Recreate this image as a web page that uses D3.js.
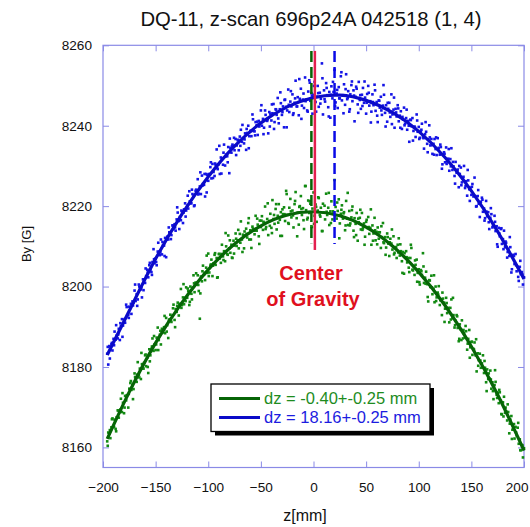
<!DOCTYPE html>
<html><head><meta charset="utf-8">
<script src="https://cdn.jsdelivr.net/npm/d3@7"></script>
<style>body{margin:0;background:#fff}svg{display:block}</style>
</head><body><svg id="c" width="530" height="527"></svg>
<script>
const title = "DQ-11, z-scan 696p24A 042518 (1, 4)";
const xLabel = "z[mm]";
const yLabel = "By [G]";
const xTicks = [-200,-150,-100,-50,0,50,100,150,200];
const yTicks = [8160,8180,8200,8220,8240,8260];

// scan positions (pass 1)
const scanZ = [-196,-195,-194,-193,-192,-191,-190,-189,-188,-187,-186,-185,-184,-183,-182,-181,-180,-179,-178,-177,
-176,-175,-174,-173,-172,-171,-170,-169,-168,-167,-166,-165,-164,-163,-162,-161,-160,-159,-158,-157,
-156,-155,-154,-153,-152,-151,-150,-149,-148,-147,-146,-145,-144,-143,-142,-141,-140,-139,-138,-137,
-136,-135,-134,-133,-132,-131,-130,-129,-128,-127,-126,-125,-124,-123,-122,-121,-120,-119,-118,-117,
-116,-115,-114,-113,-112,-111,-110,-109,-108,-107,-106,-105,-104,-103,-102,-101,-100,-99,-98,-97,
-96,-95,-94,-93,-92,-91,-90,-89,-88,-87,-86,-85,-84,-83,-82,-81,-80,-79,-78,-77,
-76,-75,-74,-73,-72,-71,-70,-69,-68,-67,-66,-65,-64,-63,-62,-61,-60,-59,-58,-57,
-56,-55,-54,-53,-52,-51,-50,-49,-48,-47,-46,-45,-44,-43,-42,-41,-40,-39,-38,-37,
-36,-35,-34,-33,-32,-31,-30,-29,-28,-27,-26,-25,-24,-23,-22,-21,-20,-19,-18,-17,
-16,-15,-14,-13,-12,-11,-10,-9,-8,-7,-6,-5,-4,-3,-2,-1,0,1,2,3,
4,5,6,7,8,9,10,11,12,13,14,15,16,17,18,19,20,21,22,23,
24,25,26,27,28,29,30,31,32,33,34,35,36,37,38,39,40,41,42,43,
44,45,46,47,48,49,50,51,52,53,54,55,56,57,58,59,60,61,62,63,
64,65,66,67,68,69,70,71,72,73,74,75,76,77,78,79,80,81,82,83,
84,85,86,87,88,89,90,91,92,93,94,95,96,97,98,99,100,101,102,103,
104,105,106,107,108,109,110,111,112,113,114,115,116,117,118,119,120,121,122,123,
124,125,126,127,128,129,130,131,132,133,134,135,136,137,138,139,140,141,142,143,
144,145,146,147,148,149,150,151,152,153,154,155,156,157,158,159,160,161,162,163,
164,165,166,167,168,169,170,171,172,173,174,175,176,177,178,179,180,181,182,183,
184,185,186,187,188,189,190,191,192,193,194,195,196,197,198,199,200];

const blueBy = [8183.3,8180.6,8185.2,8184.4,8185.7,8184.1,8187.0,8188.8,8186.8,8187.8,8187.1,8189.5,8186.7,8190.2,8191.9,8190.3,8191.6,8191.0,8195.5,8192.7,
8193.0,8195.0,8194.7,8193.2,8196.3,8196.0,8199.0,8196.4,8198.1,8196.8,8200.5,8199.2,8199.3,8197.3,8201.8,8201.8,8200.9,8202.6,8204.2,8202.3,
8205.3,8204.1,8203.6,8206.1,8209.3,8205.8,8207.0,8205.3,8208.7,8208.6,8207.8,8211.7,8208.0,8210.2,8210.2,8212.1,8207.3,8212.4,8211.7,8213.5,
8213.4,8212.8,8215.2,8214.3,8215.5,8213.9,8216.7,8218.4,8216.3,8217.3,8216.5,8218.7,8215.8,8219.2,8220.7,8218.9,8220.1,8219.4,8223.7,8220.7,
8220.7,8223.0,8222.4,8220.2,8223.8,8223.1,8226.7,8223.1,8224.9,8223.0,8227.6,8225.5,8225.3,8222.4,8228.0,8227.8,8226.3,8228.0,8229.7,8226.9,
8230.5,8228.5,8227.5,8230.3,8234.1,8229.2,8230.4,8228.0,8232.1,8231.7,8230.3,8235.3,8230.1,8232.8,8232.4,8234.7,8228.2,8234.5,8233.3,8235.3,
8235.0,8233.9,8236.7,8235.1,8236.4,8233.9,8237.3,8239.0,8236.0,8236.9,8235.6,8238.1,8234.0,8238.2,8240.0,8237.4,8238.7,8237.4,8242.8,8238.7,
8238.6,8240.9,8240.1,8237.7,8241.2,8240.4,8243.8,8240.0,8241.7,8239.5,8243.8,8241.5,8241.2,8238.1,8243.4,8243.0,8241.3,8243.1,8245.4,8240.9,
8244.1,8242.7,8246.9,8240.6,8244.1,8245.6,8242.7,8244.8,8239.6,8246.5,8244.7,8243.8,8249.0,8243.4,8246.0,8244.8,8247.8,8243.1,8245.7,8251.2,
8244.8,8247.1,8242.6,8246.7,8249.2,8245.0,8246.5,8244.4,8252.0,8246.5,8243.8,8248.5,8251.3,8246.2,8248.1,8243.0,8247.7,8250.9,8245.9,8247.2,
8249.9,8244.7,8248.2,8246.7,8255.5,8242.8,8248.8,8246.0,8250.6,8247.6,8244.6,8248.4,8242.0,8249.8,8246.8,8248.4,8253.9,8245.8,8248.0,8244.4,
8249.6,8246.8,8252.3,8246.3,8247.6,8250.3,8245.2,8252.8,8246.6,8248.6,8243.5,8247.8,8250.1,8246.1,8248.8,8241.1,8247.2,8249.2,8245.3,8250.9,
8246.4,8244.2,8247.7,8249.4,8245.7,8247.0,8243.0,8247.9,8249.9,8245.0,8246.1,8243.5,8247.8,8245.1,8250.2,8243.7,8245.9,8240.9,8246.3,8244.5,
8247.2,8242.7,8245.0,8247.7,8243.2,8245.1,8241.0,8244.2,8245.7,8242.2,8247.8,8242.8,8244.0,8239.5,8244.2,8242.3,8245.1,8241.1,8242.5,8243.6,
8239.2,8241.6,8244.5,8240.5,8241.9,8239.0,8241.2,8236.0,8241.5,8239.9,8241.9,8238.7,8239.8,8237.2,8242.8,8238.5,8239.7,8237.0,8238.7,8240.5,
8237.1,8234.3,8237.9,8238.5,8235.5,8236.6,8240.1,8235.1,8236.7,8233.0,8235.5,8236.7,8234.2,8232.7,8236.9,8234.5,8232.8,8234.7,8229.3,8232.9,
8233.4,8230.9,8234.6,8231.1,8231.8,8228.8,8231.7,8234.4,8229.0,8229.9,8227.5,8231.0,8228.3,8229.1,8224.7,8228.0,8229.6,8225.9,8226.8,8230.0,
8224.5,8226.2,8222.6,8226.4,8224.2,8224.6,8222.8,8225.5,8222.4,8227.1,8222.4,8220.0,8222.5,8220.6,8217.3,8221.1,8222.1,8218.6,8219.4,8217.0,
8221.3,8217.5,8218.5,8214.3,8217.1,8218.0,8214.7,8215.4,8217.6,8213.8,8215.0,8209.9,8214.6,8212.5,8214.3,8210.6,8211.8,8213.9,8209.8,8210.9,
8207.2,8209.3,8207.6,8209.8,8203.5,8207.7,8207.9,8205.6,8208.1,8203.8,8204.9,8201.4,8204.9,8203.1,8203.6,8200.5,8202.3];

const greenBy = [8161.5,8163.7,8163.4,8162.3,8165.0,8167.2,8165.1,8166.9,8164.6,8167.5,8169.2,8167.4,8168.8,8172.1,8168.8,8171.1,8168.5,8172.8,8171.7,8173.0,
8169.9,8174.6,8176.0,8174.3,8175.5,8174.5,8178.4,8177.3,8176.3,8181.2,8178.0,8179.6,8177.0,8180.7,8179.6,8181.0,8182.9,8180.2,8182.3,8178.5,
8184.4,8182.9,8184.5,8187.1,8184.0,8185.6,8184.2,8187.3,8189.8,8186.7,8188.0,8185.6,8189.5,8188.6,8189.9,8188.4,8192.2,8190.4,8187.2,8191.8,
8193.0,8191.2,8192.7,8195.5,8191.7,8194.4,8193.7,8196.0,8192.8,8195.7,8199.4,8195.4,8197.3,8195.6,8197.2,8199.8,8197.2,8198.9,8195.4,8200.0,
8198.2,8199.7,8202.8,8198.6,8201.0,8200.5,8202.8,8198.9,8192.0,8202.5,8201.3,8205.2,8203.0,8201.6,8204.7,8203.4,8208.2,8203.5,8205.2,8206.7,
8202.6,8205.8,8207.9,8205.4,8207.1,8202.3,8208.1,8207.0,8205.9,8210.4,8207.5,8208.8,8206.3,8210.0,8208.1,8212.7,8209.5,8208.4,8210.4,8207.1,
8211.4,8210.2,8213.2,8210.1,8211.5,8209.5,8213.1,8216.2,8211.7,8212.9,8209.5,8212.7,8214.4,8212.2,8215.8,8211.7,8214.0,8209.6,8214.9,8213.9,
8213.0,8217.6,8213.9,8215.4,8212.5,8216.4,8214.8,8217.5,8214.1,8215.9,8219.9,8214.8,8216.8,8212.8,8216.3,8218.1,8214.6,8221.5,8216.8,8215.6,
8219.3,8214.2,8217.6,8220.5,8216.6,8218.5,8212.6,8218.0,8219.7,8216.3,8223.8,8217.8,8215.8,8219.6,8221.8,8217.2,8218.9,8214.7,8220.5,8223.5,
8217.0,8218.4,8215.4,8220.0,8222.5,8217.8,8219.5,8214.3,8225.0,8219.0,8216.7,8221.4,8218.3,8220.6,8215.0,8219.4,8223.4,8217.6,8220.4,8216.1,
8218.9,8222.0,8217.8,8219.6,8213.8,8220.6,8218.4,8216.7,8223.1,8217.8,8219.6,8215.3,8218.7,8221.2,8216.7,8218.2,8226.5,8219.8,8216.9,8218.8,
8221.7,8215.7,8218.1,8220.2,8216.9,8218.5,8214.0,8221.3,8216.9,8215.3,8218.8,8215.7,8217.2,8219.9,8213.9,8217.0,8215.6,8218.3,8211.4,8216.0,
8217.1,8214.2,8218.3,8214.5,8215.7,8212.4,8216.1,8214.6,8217.3,8213.1,8214.6,8210.4,8215.2,8213.2,8217.1,8211.5,8213.6,8214.7,8211.9,8213.5,
8209.6,8212.3,8215.8,8210.8,8212.3,8209.7,8213.2,8210.7,8207.6,8211.9,8210.7,8209.2,8212.5,8208.4,8209.8,8207.1,8210.4,8212.0,8207.7,8208.8,
8206.3,8208.6,8203.2,8207.3,8208.8,8206.0,8207.1,8203.6,8207.1,8209.6,8204.2,8205.1,8202.9,8205.4,8206.7,8203.4,8204.3,8200.5,8204.1,8202.9,
8208.3,8200.9,8202.2,8203.7,8200.6,8196.3,8201.6,8199.9,8202.7,8198.1,8199.4,8196.1,8200.0,8197.3,8198.5,8200.1,8195.4,8196.8,8192.9,8197.0,
8196.0,8194.5,8197.2,8193.4,8194.7,8191.1,8194.7,8196.8,8192.1,8192.9,8189.8,8191.5,8192.9,8189.7,8186.4,8190.6,8189.3,8191.6,8187.1,8188.5,
8187.3,8188.9,8184.3,8187.0,8189.2,8184.9,8186.2,8183.0,8184.5,8186.1,8182.9,8178.9,8183.4,8181.7,8183.3,8179.8,8180.9,8182.9,8178.5,8179.8,
8176.2,8179.4,8177.0,8177.2,8179.1,8174.6,8176.2,8172.0,8175.5,8176.3,8173.1,8173.6,8171.0,8173.7,8171.6,8168.2,8171.2,8172.6,8168.6,8169.0,
8166.7,8168.8,8163.5,8166.9,8167.8,8164.4,8165.0,8162.2,8165.1,8163.0,8164.9,8160.9,8162.0,8159.3,8160.6,8157.5,8159.8];

// scan positions (pass 2)
const scanZ2 = [-195.5,-193.5,-191.5,-189.5,-187.5,-185.5,-183.5,-181.5,-179.5,-177.5,-175.5,-173.5,-171.5,-169.5,-167.5,-165.5,-163.5,-161.5,-159.5,-157.5,
-155.5,-153.5,-151.5,-149.5,-147.5,-145.5,-143.5,-141.5,-139.5,-137.5,-135.5,-133.5,-131.5,-129.5,-127.5,-125.5,-123.5,-121.5,-119.5,-117.5,
-115.5,-113.5,-111.5,-109.5,-107.5,-105.5,-103.5,-101.5,-99.5,-97.5,-95.5,-93.5,-91.5,-89.5,-87.5,-85.5,-83.5,-81.5,-79.5,-77.5,
-75.5,-73.5,-71.5,-69.5,-67.5,-65.5,-63.5,-61.5,-59.5,-57.5,-55.5,-53.5,-51.5,-49.5,-47.5,-45.5,-43.5,-41.5,-39.5,-37.5,
-35.5,-33.5,-31.5,-29.5,-27.5,-25.5,-23.5,-21.5,-19.5,-17.5,-15.5,-13.5,-11.5,-9.5,-7.5,-5.5,-3.5,-1.5,0.5,2.5,
4.5,6.5,8.5,10.5,12.5,14.5,16.5,18.5,20.5,22.5,24.5,26.5,28.5,30.5,32.5,34.5,36.5,38.5,40.5,42.5,
44.5,46.5,48.5,50.5,52.5,54.5,56.5,58.5,60.5,62.5,64.5,66.5,68.5,70.5,72.5,74.5,76.5,78.5,80.5,82.5,
84.5,86.5,88.5,90.5,92.5,94.5,96.5,98.5,100.5,102.5,104.5,106.5,108.5,110.5,112.5,114.5,116.5,118.5,120.5,122.5,
124.5,126.5,128.5,130.5,132.5,134.5,136.5,138.5,140.5,142.5,144.5,146.5,148.5,150.5,152.5,154.5,156.5,158.5,160.5,162.5,
164.5,166.5,168.5,170.5,172.5,174.5,176.5,178.5,180.5,182.5,184.5,186.5,188.5,190.5,192.5,194.5,196.5,198.5];

const blueBy2 = [8185.0,8182.1,8186.0,8185.4,8190.4,8188.1,8190.9,8187.5,8191.9,8194.9,8192.2,8195.7,8195.3,8200.5,8195.2,8200.0,8199.8,8199.1,8204.5,8203.5,
8205.9,8202.9,8206.8,8206.1,8210.9,8208.5,8211.1,8207.6,8211.8,8214.7,8211.8,8215.2,8214.7,8219.7,8214.3,8218.9,8218.4,8217.4,8222.6,8221.2,
8224.1,8220.0,8224.1,8222.9,8228.4,8225.1,8228.0,8223.4,8227.9,8230.9,8227.0,8230.6,8229.5,8235.0,8228.1,8233.3,8232.4,8230.9,8236.8,8234.9,
8237.0,8232.7,8236.5,8235.0,8240.2,8236.6,8239.2,8234.4,8238.7,8241.6,8237.6,8241.0,8239.8,8245.1,8237.9,8242.7,8241.6,8239.8,8245.3,8239.2,
8244.0,8241.8,8248.3,8243.4,8246.4,8239.6,8245.2,8248.6,8242.7,8246.8,8244.8,8251.6,8241.7,8248.0,8246.1,8243.5,8250.7,8247.5,8249.9,8243.5,
8248.1,8245.5,8251.8,8246.6,8249.4,8242.3,8247.7,8250.9,8244.9,8248.9,8246.8,8253.3,8243.1,8249.1,8246.9,8244.1,8251.0,8247.5,8249.7,8243.2,
8247.6,8244.9,8251.0,8245.7,8248.2,8240.8,8245.9,8248.8,8242.5,8246.2,8243.8,8250.1,8239.8,8245.7,8243.3,8240.4,8247.0,8243.3,8244.3,8239.5,
8242.2,8240.1,8244.0,8240.0,8241.4,8236.3,8239.5,8241.3,8236.7,8239.0,8236.9,8240.9,8233.4,8237.1,8235.2,8232.8,8237.1,8234.2,8235.3,8230.4,
8233.0,8230.5,8234.2,8229.9,8231.0,8225.6,8228.5,8230.0,8225.2,8227.3,8225.0,8229.0,8221.3,8224.8,8222.6,8219.9,8224.0,8220.8,8221.6,8216.4,
8218.6,8216.0,8219.5,8215.1,8216.1,8210.5,8213.2,8214.5,8209.3,8211.2,8208.6,8212.3,8204.3,8207.6,8205.3,8202.4,8206.4,8203.0];

const greenBy2 = [8160.4,8164.3,8167.0,8165.1,8164.0,8169.2,8169.4,8173.5,8169.9,8172.9,8173.3,8176.5,8172.0,8177.5,8178.1,8177.4,8183.5,8179.6,8183.1,8180.0,
8181.4,8185.1,8187.7,8185.6,8184.2,8189.0,8188.9,8192.7,8188.8,8191.5,8191.6,8194.6,8189.9,8195.2,8195.6,8194.7,8200.6,8196.4,8199.5,8196.2,
8196.8,8200.8,8203.3,8200.4,8198.3,8203.8,8203.4,8207.7,8202.6,8205.5,8205.2,8208.3,8202.2,8208.1,8208.1,8206.6,8213.3,8207.9,8211.5,8207.2,
8208.2,8211.9,8214.1,8210.9,8208.6,8213.7,8213.1,8217.0,8211.7,8214.4,8213.9,8216.9,8210.6,8216.4,8216.1,8214.3,8220.7,8215.1,8213.3,8217.8,
8220.5,8215.9,8212.6,8219.2,8218.0,8223.0,8215.6,8218.7,8217.7,8221.3,8212.5,8219.8,8219.3,8216.5,8225.0,8217.1,8221.2,8214.8,8215.6,8219.8,
8222.2,8217.4,8213.8,8220.1,8218.6,8223.3,8215.8,8218.7,8217.5,8220.9,8212.0,8219.1,8218.2,8215.2,8223.3,8215.2,8219.0,8212.3,8212.8,8216.9,
8219.1,8214.1,8210.4,8216.6,8214.8,8219.2,8211.4,8214.0,8210.5,8213.5,8215.0,8211.0,8207.9,8212.3,8211.0,8214.2,8208.0,8209.8,8208.5,8210.5,
8203.4,8208.3,8207.3,8204.7,8210.4,8204.0,8206.5,8201.2,8201.1,8203.8,8205.0,8200.7,8197.4,8201.5,8199.8,8202.8,8196.4,8198.0,8196.6,8198.5,
8191.2,8195.9,8194.6,8191.8,8197.2,8190.4,8192.6,8187.0,8186.7,8189.2,8190.2,8185.8,8182.3,8186.3,8184.3,8186.9,8180.3,8181.6,8179.9,8181.5,
8174.0,8178.4,8176.9,8174.0,8179.2,8172.3,8174.3,8168.3,8167.7,8169.9,8170.7,8165.9,8162.1,8165.8,8163.7,8166.1,8159.3,8160.5];

// parabolic fit curves, read at these positions
const fitZ = [-196,-175,-150,-125,-100,-75,-50,-25,0,25,50,75,100,125,150,175,200];
const blueFit = [8183.0,8194.0,8206.9,8218.0,8227.3,8234.9,8240.7,8244.7,8247.0,8247.6,8246.3,8243.3,8238.6,8232.1,8223.8,8213.7,8201.9];
const greenFit = [8162.1,8173.8,8186.0,8196.0,8204.2,8210.6,8215.1,8217.8,8218.6,8217.6,8214.8,8210.1,8203.6,8195.3,8185.1,8173.1,8159.2];

// vertical markers: green dashed (green dz), red solid (center of gravity), blue dashed (blue dz)
const markerZ = [-2, 1.3, 20];
const markerTop = [8258.6, 8258.6, 8258.6];
const markerBottom = [8210.8, 8209.1, 8210.6];

const cogLines = ["Center", "of Gravity"];
const legendLabels = ["dz = -0.40+-0.25 mm", "dz = 18.16+-0.25 mm"];

const FONT = "'Liberation Sans', Arial, Helvetica, sans-serif";
const C = {
  axis: "#8a8ae6", bluePt: "#1414e6", blueLine: "#0a0ac8", greenPt: "#128a12", greenLine: "#066406",
  red: "#e3204f", cog: "#e0101e", legGreen: "#1e8c1e", legBlue: "#1c1ce0"
};

const svg = d3.select("#c");
const x = d3.scaleLinear().domain([-200, 200]).range([103, 524]);
const y = d3.scaleLinear().domain([8155, 8260]).range([467.5, 45.3]);
const [x0, x1] = x.range();
const [yb, yt] = y.range();

svg.append("rect").attr("width", 530).attr("height", 527).attr("fill", "#fff");

// title
svg.append("text").attr("x", 311).attr("y", 26).attr("text-anchor", "middle")
  .attr("font-family", FONT).attr("font-size", 20.3).attr("fill", "#111").text(title);

// axes
function styleAxis(g) {
  g.select(".domain").remove();
  g.selectAll(".tick line").attr("stroke", C.axis).attr("stroke-width", 1);
  g.selectAll(".tick text").attr("font-family", FONT).attr("font-size", 13.6).attr("fill", "#111");
}
const gxb = svg.append("g").attr("transform", `translate(0,${yb})`)
  .call(d3.axisBottom(x).tickValues(xTicks).tickFormat(d3.format("d")).tickSizeInner(-6).tickSizeOuter(0).tickPadding(15))
  .call(styleAxis);
gxb.selectAll(".tick text").filter(d => d === xTicks[xTicks.length - 1])
  .attr("text-anchor", "end").attr("dx", 4);
svg.append("g").attr("transform", `translate(0,${yt})`)
  .call(d3.axisTop(x).tickValues(xTicks).tickFormat("").tickSizeInner(-6).tickSizeOuter(0))
  .call(styleAxis);
svg.append("g").attr("transform", `translate(${x0},0)`)
  .call(d3.axisLeft(y).tickValues(yTicks).tickFormat(d3.format("d")).tickSizeInner(-6).tickSizeOuter(0).tickPadding(11))
  .call(styleAxis);
svg.append("g").attr("transform", `translate(${x1},0)`)
  .call(d3.axisRight(y).tickValues(yTicks).tickFormat("").tickSizeInner(-6).tickSizeOuter(0))
  .call(styleAxis);

svg.append("rect").attr("x", x0).attr("y", yt).attr("width", x1 - x0).attr("height", yb - yt)
  .attr("fill", "none").attr("stroke", C.axis).attr("stroke-width", 1.2);

// axis labels
svg.append("text").attr("x", 305).attr("y", 521).attr("text-anchor", "middle")
  .attr("font-family", FONT).attr("font-size", 16).attr("fill", "#111").text(xLabel);
svg.append("text").attr("transform", "translate(31,244) rotate(-90)").attr("text-anchor", "middle")
  .attr("font-family", FONT).attr("font-size", 13).attr("fill", "#111").text(yLabel);

// scatter points
const pts = svg.append("g");
function drawPts(zs, vals, color) {
  pts.append("g").selectAll("rect").data(zs.map((z, i) => [z, vals[i]])).join("rect")
    .attr("x", d => x(d[0]) - 1.3).attr("y", d => y(d[1]) - 1.3)
    .attr("width", 2.6).attr("height", 2.6).attr("fill", color);
}
drawPts(scanZ, greenBy, C.greenPt);
drawPts(scanZ2, greenBy2, C.greenPt);
drawPts(scanZ, blueBy, C.bluePt);
drawPts(scanZ2, blueBy2, C.bluePt);

// fit lines
const line = d3.line().x(d => x(d[0])).y(d => y(d[1])).curve(d3.curveNatural);
svg.append("path").attr("d", line(fitZ.map((z, i) => [z, greenFit[i]])))
  .attr("fill", "none").attr("stroke", C.greenLine).attr("stroke-width", 3.2);
svg.append("path").attr("d", line(fitZ.map((z, i) => [z, blueFit[i]])))
  .attr("fill", "none").attr("stroke", C.blueLine).attr("stroke-width", 3.2);

// vertical markers
const mStyles = [
  {c: C.greenLine, w: 2.5, dash: "11,5"},
  {c: C.red, w: 2.5, dash: null},
  {c: "#0a0ae6", w: 2.5, dash: "11,5"}
];
markerZ.forEach((z, i) => {
  const l = svg.append("line").attr("x1", x(z)).attr("x2", x(z))
    .attr("y1", y(markerTop[i])).attr("y2", y(markerBottom[i]))
    .attr("stroke", mStyles[i].c).attr("stroke-width", mStyles[i].w);
  if (mStyles[i].dash) l.attr("stroke-dasharray", mStyles[i].dash);
});

// center of gravity label
svg.append("text").attr("x", 311).attr("y", 280).attr("text-anchor", "middle")
  .attr("font-family", FONT).attr("font-weight", "bold").attr("font-size", 20).attr("fill", C.cog).text(cogLines[0]);
svg.append("text").attr("x", 313).attr("y", 306).attr("text-anchor", "middle")
  .attr("font-family", FONT).attr("font-weight", "bold").attr("font-size", 20).attr("fill", C.cog).text(cogLines[1]);

// legend
const lg = svg.append("g");
lg.append("rect").attr("x", 215).attr("y", 388).attr("width", 219).attr("height", 47.5).attr("fill", "#000");
lg.append("rect").attr("x", 211).attr("y", 384).attr("width", 219).attr("height", 47.5)
  .attr("fill", "#fff").attr("stroke", "#000").attr("stroke-width", 1.3);
const legCols = [[C.greenLine, C.legGreen], [C.blueLine, C.legBlue]];
legendLabels.forEach((t, i) => {
  const yy = 398.5 + i * 19;
  lg.append("line").attr("x1", 219).attr("x2", 260).attr("y1", yy).attr("y2", yy)
    .attr("stroke", legCols[i][0]).attr("stroke-width", 3);
  lg.append("text").attr("x", 264).attr("y", yy + 5.6).attr("font-family", FONT).attr("font-size", 16.5)
    .attr("fill", legCols[i][1]).text(t);
});
</script></body></html>
